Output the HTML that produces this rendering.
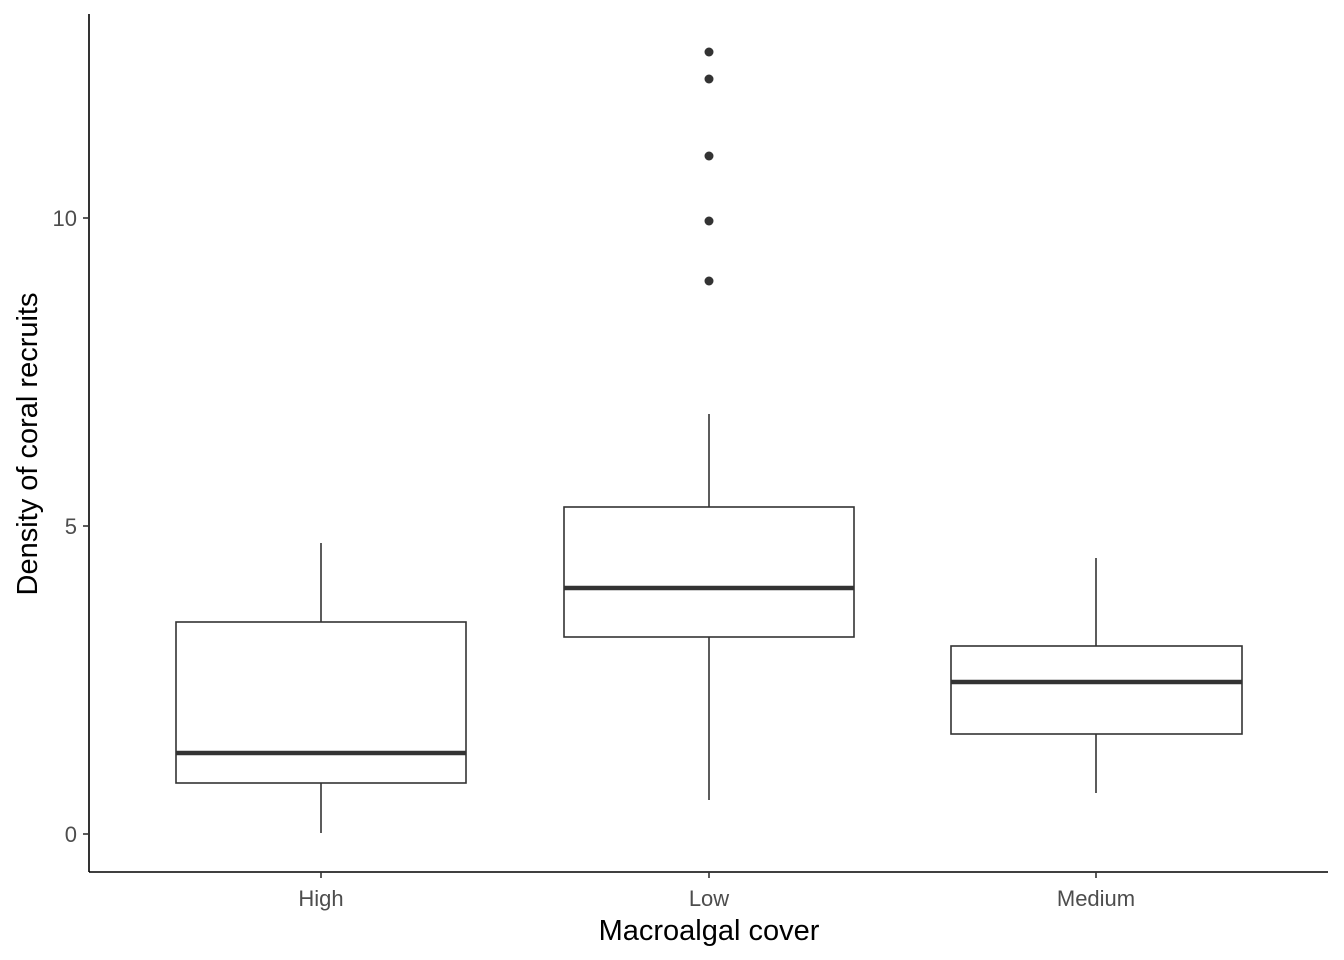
<!DOCTYPE html>
<html><head><meta charset="utf-8"><style>body{margin:0;background:#fff}svg{display:block}</style></head><body>
<svg width="1344" height="960" xmlns="http://www.w3.org/2000/svg" font-family="Liberation Sans, sans-serif">
<rect width="1344" height="960" fill="#fff"/>
<g stroke="#000" stroke-width="1.6" fill="none">
<line x1="89" y1="14" x2="89" y2="872"/>
<line x1="89" y1="872" x2="1328" y2="872"/>
</g>
<g stroke="#333" stroke-width="1.6">
<line x1="83" y1="834" x2="89" y2="834"/><line x1="83" y1="526" x2="89" y2="526"/><line x1="83" y1="218" x2="89" y2="218"/>
<line x1="321" y1="872" x2="321" y2="878"/><line x1="709" y1="872" x2="709" y2="878"/><line x1="1096" y1="872" x2="1096" y2="878"/>
</g>
<g fill="#4d4d4d" font-size="22" text-anchor="end">
<text x="77" y="842">0</text><text x="77" y="534">5</text><text x="77" y="226">10</text>
</g>
<g fill="#4d4d4d" font-size="22" text-anchor="middle">
<text x="321" y="906">High</text><text x="709" y="906">Low</text><text x="1096" y="906">Medium</text>
</g>
<text x="709" y="940" font-size="29" text-anchor="middle" fill="#000">Macroalgal cover</text>
<text transform="translate(37,444) rotate(-90)" font-size="29" text-anchor="middle" fill="#000">Density of coral recruits</text>
<g stroke="#333" stroke-width="1.6" fill="#fff">
<line x1="321" y1="543" x2="321" y2="622"/><line x1="321" y1="783" x2="321" y2="833"/>
<rect x="176" y="622" width="290" height="161"/>
<line x1="709" y1="414" x2="709" y2="507"/><line x1="709" y1="637" x2="709" y2="800"/>
<rect x="564" y="507" width="290" height="130"/>
<line x1="1096" y1="558" x2="1096" y2="646"/><line x1="1096" y1="734" x2="1096" y2="793"/>
<rect x="951" y="646" width="291" height="88"/>
</g>
<g stroke="#333" stroke-width="4.4">
<line x1="176" y1="753" x2="466" y2="753"/>
<line x1="564" y1="588" x2="854" y2="588"/>
<line x1="951" y1="682" x2="1242" y2="682"/>
</g>
<g fill="#333">
<circle cx="709" cy="52" r="4.5"/><circle cx="709" cy="79" r="4.5"/><circle cx="709" cy="156" r="4.5"/><circle cx="709" cy="221" r="4.5"/><circle cx="709" cy="281" r="4.5"/>
</g>
</svg>
</body></html>
